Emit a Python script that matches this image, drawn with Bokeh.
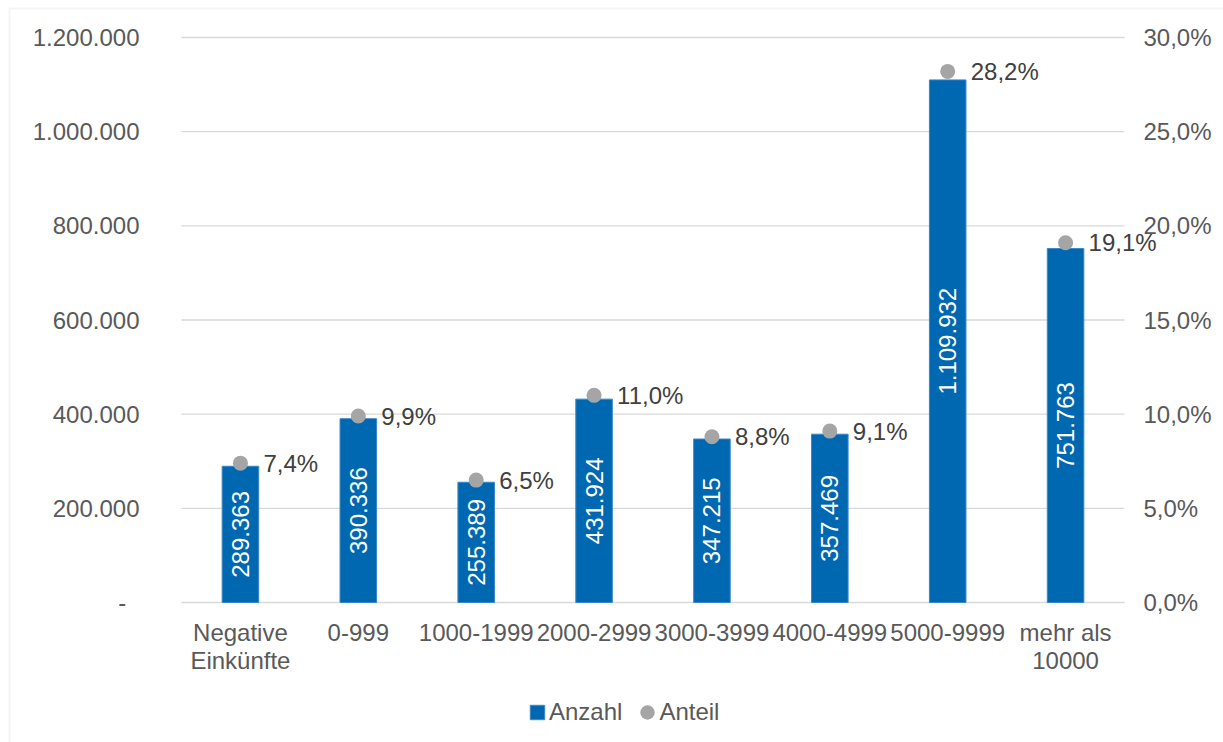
from bokeh.plotting import figure
from bokeh.models import (Range1d, LinearAxis, FixedTicker, ColumnDataSource, LabelSet,
                          Legend, LegendItem, BoxAnnotation, Node)
from bokeh.embed import file_html
from bokeh.resources import INLINE
from bokeh.core.properties import value
import math

# Einkommensklassen, Anzahl der Personen und ihr Anteil in Prozent
categories = ["Negative\nEinkünfte", "0-999", "1000-1999", "2000-2999",
              "3000-3999", "4000-4999", "5000-9999", "mehr als\n10000"]
anzahl = [289363, 390336, 255389, 431924, 347215, 357469, 1109932, 751763]
anteil = [7.4, 9.9, 6.5, 11.0, 8.8, 9.1, 28.2, 19.1]

count_ticks = [0, 200000, 400000, 600000, 800000, 1000000, 1200000]
share_ticks = [0, 5, 10, 15, 20, 25, 30]

FONT = "Liberation Sans"
FS = "24px"
AXIS_GREY = "#595959"
BLUE = "#0067B1"
GREY = "#A5A5A5"
GRID = "#D9D9D9"

# page geometry in pixels: the plot band and the canvas around it
W, H = 1223, 742
BAND_L, BAND_R, BAND_T, BAND_B = 181, 1124, 37, 602


def de_int(v):
    return f"{v:,}".replace(",", ".")


def de_pct(v):
    return f"{v:.1f}".replace(".", ",") + "%"


def padded(lo, hi, px_lo, px_hi, px_total_lo, px_total_hi):
    """Range whose [lo, hi] lands on pixels [px_lo, px_hi] of a full-canvas frame."""
    per_px = (hi - lo) / (px_hi - px_lo)
    return Range1d(lo - (px_lo - px_total_lo) * per_px, hi + (px_total_hi - px_hi) * per_px)


n = len(categories)
xs = [i + 0.5 for i in range(n)]
line1 = [c.split("\n")[0] for c in categories]
two_line = [(x, c.split("\n")[1]) for x, c in zip(xs, categories) if "\n" in c]

src = ColumnDataSource(dict(
    x=xs,
    anzahl=anzahl,
    half=[v / 2 for v in anzahl],
    anzahl_txt=[de_int(v) for v in anzahl],
    anteil=anteil,
    anteil_txt=[de_pct(v) for v in anteil],
))

# the frame fills the canvas; x runs left->right, y is flipped (pixels grow downward)
p = figure(width=W, height=H, output_backend="svg", toolbar_location=None,
           x_range=padded(0, n, BAND_L, BAND_R, 0, W),
           y_range=padded(0, count_ticks[-1], H - BAND_B, H - BAND_T, 0, H),
           min_border=0, min_border_left=0, min_border_right=0,
           min_border_top=0, min_border_bottom=0)
p.extra_y_ranges = {"pct": padded(0, share_ticks[-1], H - BAND_B, H - BAND_T, 0, H)}
p.outline_line_color = None
p.xgrid.visible = False
p.ygrid.visible = False

# chart area border
p.add_layout(BoxAnnotation(left=Node(target="canvas", symbol="left", offset=9),
                           top=Node(target="canvas", symbol="top", offset=8),
                           right=Node(target="canvas", symbol="right", offset=20),
                           bottom=Node(target="canvas", symbol="bottom", offset=20),
                           fill_color=None, line_color=GRID, line_width=2, level="underlay"))

# horizontal grid lines across the category band
p.segment(x0=0, x1=n, y0=count_ticks, y1=count_ticks, line_color=GRID, line_width=1.3,
          level="underlay")

# left axis (Anzahl) pinned to the band's left edge
yl = p.yaxis[0]
yl.fixed_location = 0
yl.ticker = FixedTicker(ticks=count_ticks)
yl.major_label_overrides = {t: (de_int(t) if t else "-\u00a0\u00a0") for t in count_ticks}
yl.major_label_standoff = 42

# right axis (Anteil) pinned to the band's right edge
yr = LinearAxis(y_range_name="pct", ticker=FixedTicker(ticks=share_ticks), fixed_location=n)
yr.major_label_overrides = {t: de_pct(t) for t in share_ticks}
yr.major_label_standoff = 19
p.add_layout(yr, "right")

# category names: first line and, where present, second line
xa = p.xaxis[0]
xa.fixed_location = 0
xa.ticker = FixedTicker(ticks=xs)
xa.major_label_overrides = dict(zip(xs, line1))
xa.major_label_standoff = 16
xb = LinearAxis(ticker=FixedTicker(ticks=[t for t, _ in two_line]), fixed_location=0)
xb.major_label_overrides = dict(two_line)
xb.major_label_standoff = 16 + 28
p.add_layout(xb, "below")

for ax in (yl, yr, xa, xb):
    ax.axis_line_color = None
    ax.major_tick_line_color = None
    ax.minor_tick_line_color = None
    ax.major_tick_out = 0
    ax.major_tick_in = 0
    ax.major_label_text_font = FONT
    ax.major_label_text_font_size = FS
    ax.major_label_text_color = AXIS_GREY

bars = p.vbar(x="x", top="anzahl", bottom=0, width=0.31, source=src,
              fill_color=BLUE, line_color="#3A86C8", line_width=1)

dots = p.ellipse(x="x", y="anteil", width=15, height=15,
                 width_units="screen", height_units="screen",
                 source=src, y_range_name="pct", fill_color=GREY, line_color=None)

# values inside the bars
p.text(x="x", y="half", text="anzahl_txt", source=src, angle=math.pi / 2,
       text_align="center", text_baseline="middle", text_color="white",
       text_font=value(FONT), text_font_size=FS)

# share labels next to the dots
p.add_layout(LabelSet(x="x", y="anteil", text="anteil_txt", source=src, y_range_name="pct",
                      x_offset=23, text_align="left", text_baseline="middle",
                      text_color="#404040", text_font=value(FONT), text_font_size=FS))

legend = Legend(items=[LegendItem(label="Anzahl", renderers=[bars]),
                       LegendItem(label="Anteil", renderers=[dots])],
                orientation="horizontal", location=(528, 16),
                glyph_width=18, glyph_height=18, label_standoff=3, spacing=16,
                padding=0, margin=0, border_line_color=None, background_fill_alpha=0,
                label_text_font=FONT, label_text_font_size=FS, label_text_color=AXIS_GREY)
p.add_layout(legend, "center")

open("out.html", "w").write(file_html(p, INLINE))
